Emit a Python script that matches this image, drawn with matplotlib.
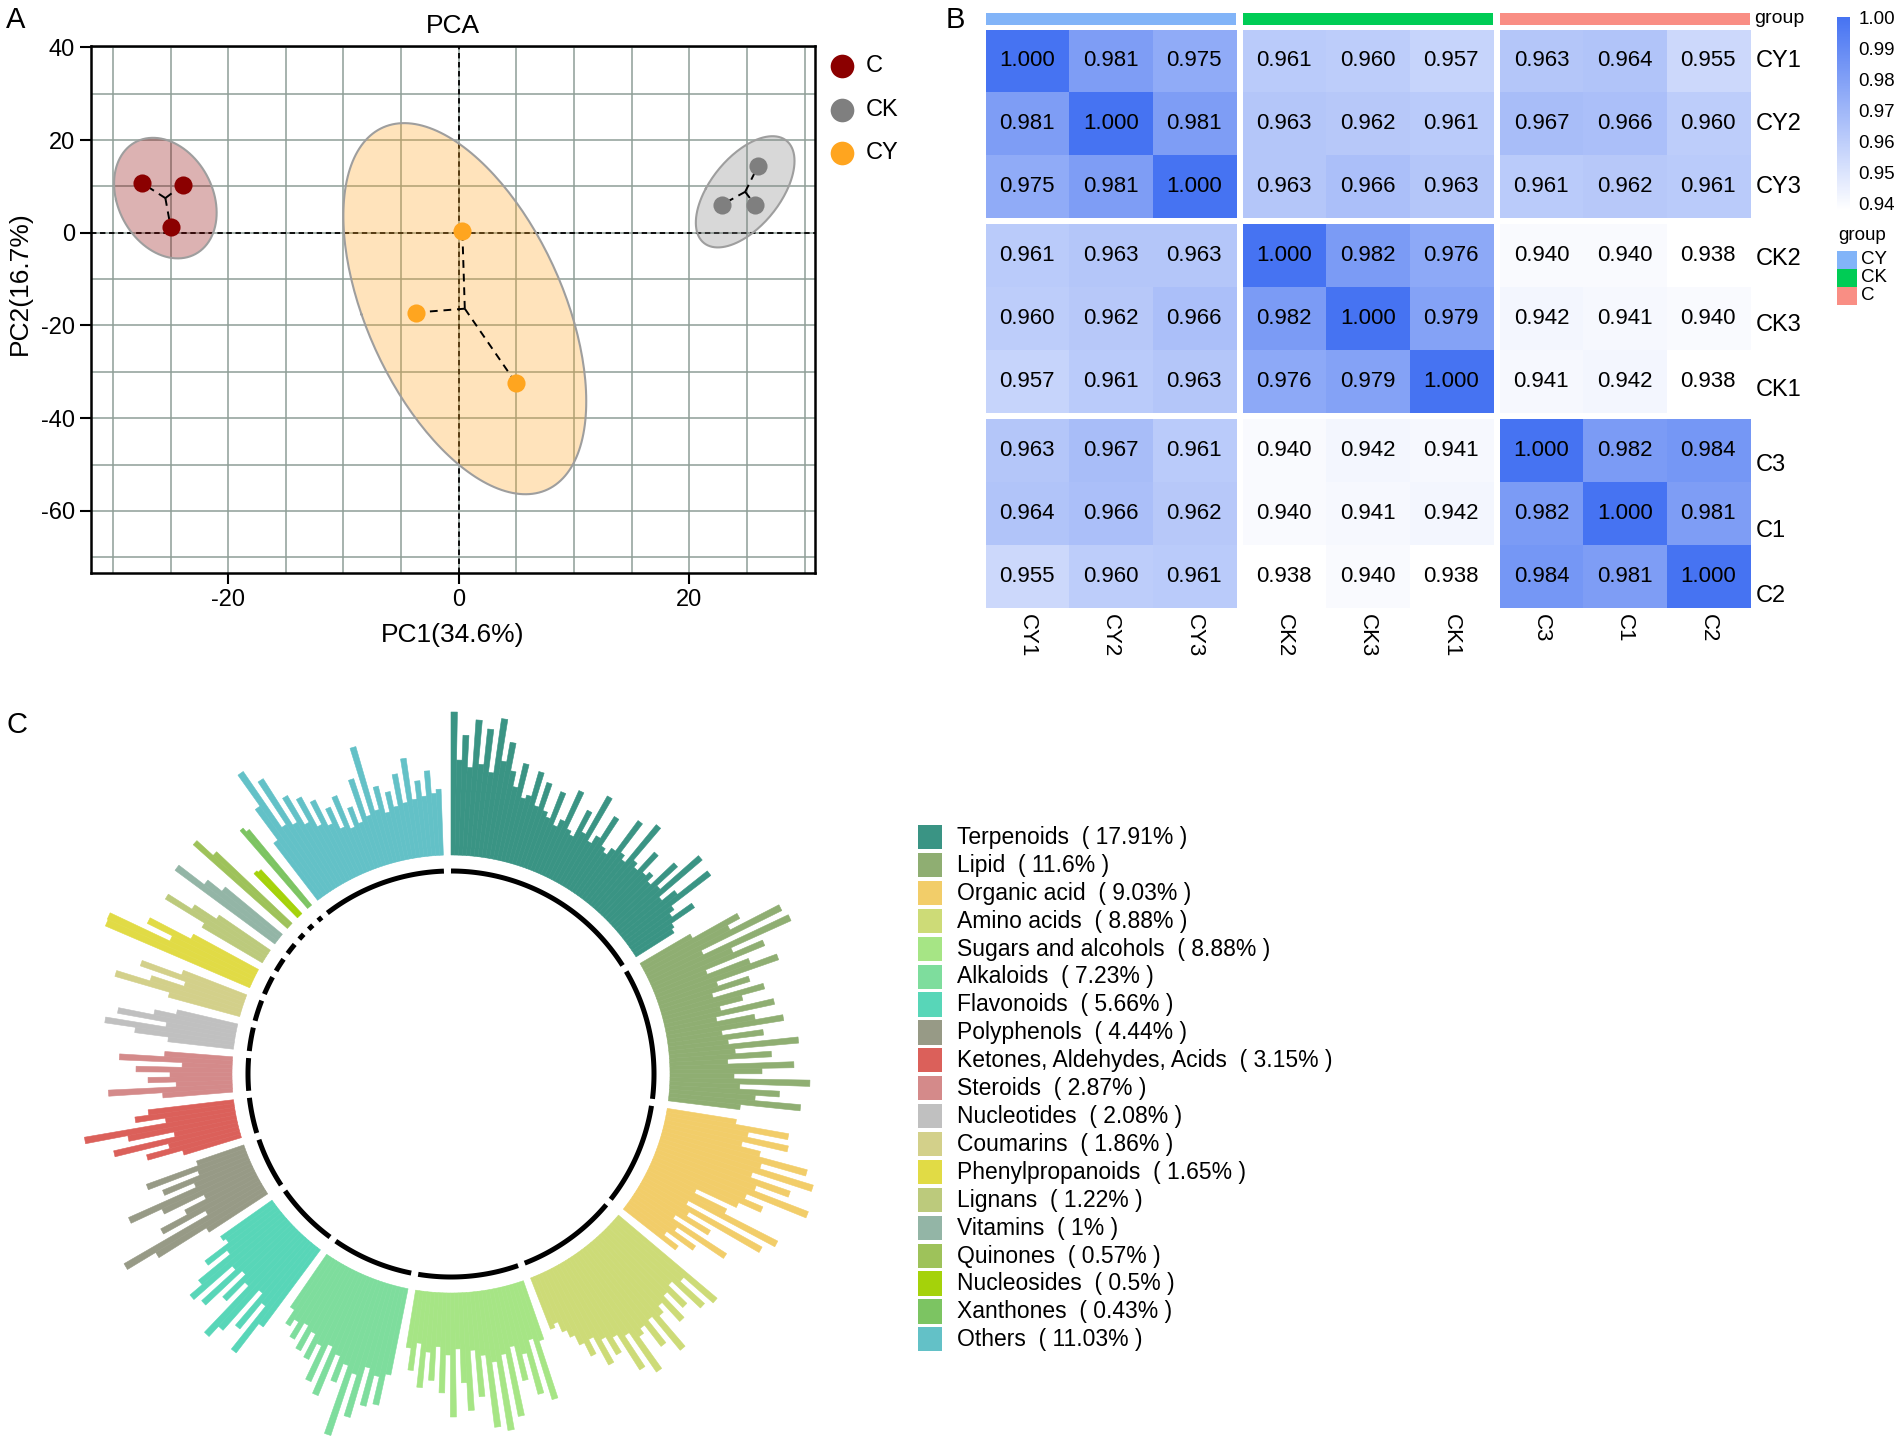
import numpy as np
import matplotlib
matplotlib.use('Agg')
import matplotlib.pyplot as plt
from matplotlib.colors import LinearSegmentedColormap
from matplotlib.patches import Rectangle
from matplotlib.ticker import FormatStrFormatter

plt.rcParams['font.family'] = ['Liberation Sans', 'DejaVu Sans']
plt.rcParams['axes.unicode_minus'] = False

W, H = 1902, 1444  # figure size in pixels

# ---------------- A: PCA scores ----------------
pca_groups = ['C', 'CK', 'CY']
pca_colors = ['#8B0000', '#7F7F7F', '#FFA51F']
pc1_C = [-27.45, -23.9, -25.0]
pc2_C = [10.7, 10.4, 1.35]
pc1_CK = [25.98, 22.83, 25.72]
pc2_CK = [14.5, 6.06, 5.96]
pc1_CY = [0.31, -3.67, 4.93]
pc2_CY = [0.38, -17.2, -32.3]
pc1_var, pc2_var = 34.6, 16.7

# ---------------- B: sample correlation ----------------
samples = ['CY1', 'CY2', 'CY3', 'CK2', 'CK3', 'CK1', 'C3', 'C1', 'C2']
sample_groups = ['CY', 'CK', 'C']
group_colors = ['#82B4F8', '#00CC55', '#F98E84']
corr = [
    [1.000, 0.981, 0.975, 0.961, 0.960, 0.957, 0.963, 0.964, 0.955],
    [0.981, 1.000, 0.981, 0.963, 0.962, 0.961, 0.967, 0.966, 0.960],
    [0.975, 0.981, 1.000, 0.963, 0.966, 0.963, 0.961, 0.962, 0.961],
    [0.961, 0.963, 0.963, 1.000, 0.982, 0.976, 0.940, 0.940, 0.938],
    [0.960, 0.962, 0.966, 0.982, 1.000, 0.979, 0.942, 0.941, 0.940],
    [0.957, 0.961, 0.963, 0.976, 0.979, 1.000, 0.941, 0.942, 0.938],
    [0.963, 0.967, 0.961, 0.940, 0.942, 0.941, 1.000, 0.982, 0.984],
    [0.964, 0.966, 0.962, 0.940, 0.941, 0.942, 0.982, 1.000, 0.981],
    [0.955, 0.960, 0.961, 0.938, 0.940, 0.938, 0.984, 0.981, 1.000],
]

# ---------------- C: metabolite classes ----------------
classes = ['Terpenoids', 'Lipid', 'Organic acid', 'Amino acids', 'Sugars and alcohols',
           'Alkaloids', 'Flavonoids', 'Polyphenols', 'Ketones, Aldehydes, Acids', 'Steroids',
           'Nucleotides', 'Coumarins', 'Phenylpropanoids', 'Lignans', 'Vitamins',
           'Quinones', 'Nucleosides', 'Xanthones', 'Others']
class_pct = [17.91, 11.6, 9.03, 8.88, 8.88, 7.23, 5.66, 4.44, 3.15, 2.87,
             2.08, 1.86, 1.65, 1.22, 1, 0.57, 0.5, 0.43, 11.03]
class_colors = ['#3A9484', '#8FAE72', '#F2CD69', '#CDDB77', '#A6E585', '#7EDD9D',
                '#58D6B8', '#979A86', '#DB605A', '#D48A8A', '#C0C0C0', '#D3D08A',
                '#E1DB45', '#BCCA7C', '#93B5A6', '#9EC25A', '#A5D20A', '#7CC462', '#63C1C7']

# bar lengths per class, clockwise
terpenoids = [143, 95, 120, 88, 136, 92, 128, 85, 140, 98, 118, 90,
              75, 100, 66, 70, 96, 62, 88, 60,
              55, 84, 50, 58, 92, 52, 48, 78, 56, 100, 51, 60, 86, 54, 50,
              58, 96, 60, 55, 104, 62, 57, 82, 59, 64,
              56, 88, 60, 111, 54, 70, 108, 58, 52, 76, 48, 45]
lipid = [58, 109, 95, 150, 60, 154, 88, 120, 56, 100, 128, 62, 94, 54, 106, 82, 58, 112, 52,
         90, 118, 55, 96, 60, 130, 66, 102, 58, 124, 92, 64, 140, 70, 110, 86, 132, 72]
organic_acid = [70, 124, 84, 126, 80, 100, 150, 104, 160, 98, 140, 106, 164, 100, 120, 96,
                52, 88, 148, 50, 137, 56, 84, 46, 110, 54, 80, 48, 66]
amino_acids = [129, 90, 123, 84, 110, 88, 118, 92, 100, 140, 96, 125, 98, 104, 143, 95,
               132, 90, 107, 86, 112, 80, 96, 81, 70, 62, 51, 55]
sugars = [62, 122, 58, 113, 70, 96, 60, 130, 66, 142, 72, 137, 64, 105, 58, 118, 90, 56,
          124, 62, 100, 54, 88, 60, 96, 52, 80, 58]
alkaloids = [88, 120, 92, 124, 86, 139, 96, 162, 90, 110, 84, 129, 78, 119, 82, 100, 74,
             96, 70, 89, 72, 80, 64]
flavonoids = [96, 133, 78, 112, 70, 124, 138, 74, 100, 68, 118, 72, 123, 107, 66, 90, 60, 63]
polyphenols = [70, 126, 159, 62, 110, 80, 56, 100, 134, 60, 92, 52, 105, 50]
ketones = [60, 96, 72, 127, 64, 110, 153, 70, 100, 86]
steroids = [70, 124, 56, 84, 62, 96, 50, 113, 68]
nucleotides = [66, 100, 131, 70, 120, 84, 62]
coumarins = [74, 131, 96, 62, 110, 68]
phenylpropanoids = [157, 158, 92, 120, 74]
lignans = [70, 116, 88, 62]
vitamins = [124, 92, 74]
quinones = [126, 104]
nucleosides = [62, 60]
xanthones = [103, 98]
others = [72, 110, 148, 80, 131, 76, 104, 70, 96, 62, 87, 58, 74, 50, 82, 46, 66, 48, 92, 52,
          122, 55, 78, 50, 70, 54, 86, 56, 100, 58, 76, 60, 85, 62, 66]
class_values = [terpenoids, lipid, organic_acid, amino_acids, sugars, alkaloids, flavonoids,
                polyphenols, ketones, steroids, nucleotides, coumarins, phenylpropanoids,
                lignans, vitamins, quinones, nucleosides, xanthones, others]


def conf_ellipse(x, y, n=200):
    # 95% normal ellipse from the sample covariance
    x = np.asarray(x)
    y = np.asarray(y)
    vals, vecs = np.linalg.eigh(np.cov(x, y))
    t = np.linspace(0, 2 * np.pi, n)
    circ = np.vstack([np.cos(t), np.sin(t)])
    pts = vecs @ (np.sqrt(vals)[:, None] * circ) * np.sqrt(5.991)
    return x.mean() + pts[0], y.mean() + pts[1]


fig = plt.figure(figsize=(W / 100, H / 100), dpi=100)

# ================= Panel A =================
axA = fig.add_axes([91 / W, 1 - 573 / H, 724 / W, 527 / H])
axA.set_xlim(-31.9, 30.9)
axA.set_ylim(-73.4, 40.3)
axA.set_xticks([-20, 0, 20])
axA.set_yticks([-60, -40, -20, 0, 20, 40])
axA.set_xticks(np.arange(-30, 31, 5), minor=True)
axA.set_yticks(np.arange(-70, 41, 10), minor=True)
axA.grid(which='both', color='#8E9E97', lw=1.1)
axA.set_axisbelow(True)
axA.tick_params(which='major', labelsize=17, length=8, width=1.5, color='black')
axA.tick_params(which='minor', length=0)
for sp in axA.spines.values():
    sp.set_linewidth(1.8)
axA.axhline(0, color='black', ls=(0, (3, 2)), lw=1.3, zorder=2)
axA.axvline(0, color='black', ls=(0, (3, 2)), lw=1.3, zorder=2)

pca_x = [pc1_C, pc1_CK, pc1_CY]
pca_y = [pc2_C, pc2_CK, pc2_CY]
for xs, ys, col in zip(pca_x, pca_y, pca_colors):
    ex, ey = conf_ellipse(xs, ys)
    axA.fill(ex, ey, color=col, alpha=0.3, lw=0, zorder=3)
    axA.plot(ex, ey, color='#9E9E9E', lw=1.5, zorder=3)
    mx, my = np.mean(xs), np.mean(ys)
    for px, py in zip(xs, ys):
        axA.plot([mx, px], [my, py], color='black', ls=(0, (4, 3)), lw=1.4, zorder=4)
    axA.scatter(xs, ys, s=170, color=col, zorder=5, linewidths=0)

axA.set_title('PCA', fontsize=19, pad=9)
axA.set_xlabel(f'PC1({pc1_var}%)', fontsize=19, labelpad=9)
axA.set_ylabel(f'PC2({pc2_var}%)', fontsize=19)
axA.yaxis.set_label_coords(-0.082, 0.55)

# ================= Panel B =================
gx, gy = 0.08, 0.095
M = np.array(corr)
cmap = LinearSegmentedColormap.from_list('wb', ['#FFFFFF', '#4673F2'])
axB = fig.add_axes([985.6 / W, 1 - 607.6 / H, 764.4 / W, 578.1 / H])
im = None
for bi in range(3):
    for bj in range(3):
        x0 = bj * (3 + gx)
        y0 = bi * (3 + gy)
        im = axB.imshow(M[3 * bi:3 * bi + 3, 3 * bj:3 * bj + 3], cmap=cmap,
                        vmin=M.min(), vmax=M.max(), extent=(x0, x0 + 3, y0 + 3, y0),
                        aspect='auto', interpolation='nearest')
axB.set_xlim(0, 9 + 2 * gx)
axB.set_ylim(9 + 2 * gy, 0)
axB.axis('off')

for i in range(9):
    cy = i + (i // 3) * gy + 0.5
    for j in range(9):
        cx = j + (j // 3) * gx + 0.5
        axB.text(cx, cy, f'{M[i, j]:.3f}', ha='center', va='center', fontsize=16)
    # row labels sit slightly lower for the lower blocks, as in the source figure
    axB.text(9 + 2 * gx + 0.07, cy + 0.06 * (i // 3) + 0.04 * max(i - 3, 0), samples[i],
             ha='left', va='center', fontsize=17)
for j in range(9):
    cx = j + (j // 3) * gx + 0.5
    axB.text(cx, 9 + 2 * gy + 0.1, samples[j], ha='center', va='top', rotation=270, fontsize=16)

for g in range(3):
    axB.add_patch(Rectangle((g * (3 + gx), -0.27), 3, 0.205, color=group_colors[g],
                            clip_on=False, lw=0))
axB.text(9 + 2 * gx + 0.05, -0.17, 'group', ha='left', va='center', fontsize=14)

cax = fig.add_axes([1837 / W, 1 - 210 / H, 13 / W, 193 / H])
cb = fig.colorbar(im, cax=cax, ticks=[0.94, 0.95, 0.96, 0.97, 0.98, 0.99, 1.00])
cb.outline.set_visible(False)
cax.yaxis.set_major_formatter(FormatStrFormatter('%.2f'))
cax.tick_params(length=0, labelsize=13.5, pad=6)

# ================= Panel C =================
axC = fig.add_axes([51 / W, 1 - 1474 / H, 800 / W, 800 / H], projection='polar')
axC.set_theta_zero_location('N')
axC.set_theta_direction(-1)
gap = 2.0
pct = np.array(class_pct)
spans = pct / pct.sum() * (360 - gap * len(classes))
start = 0.0
for vals, span, col in zip(class_values, spans, class_colors):
    n = len(vals)
    w = span / n
    th = np.deg2rad(start + w * (np.arange(n) + 0.5))
    axC.bar(th, vals, width=np.deg2rad(w), bottom=219, color=col, edgecolor=col, linewidth=0.4)
    arc = np.deg2rad(np.linspace(start, start + span, 60))
    axC.plot(arc, np.full(60, 203.0), color='black', lw=3.6, solid_capstyle='butt')
    start += span + gap
axC.set_ylim(0, 400)
axC.axis('off')

# ================= overlay: letters and legends =================
ov = fig.add_axes([0, 0, 1, 1])
ov.set_xlim(0, W)
ov.set_ylim(H, 0)
ov.axis('off')

ov.text(6, 20, 'A', fontsize=21, ha='left', va='center')
ov.text(946, 20, 'B', fontsize=21, ha='left', va='center')
ov.text(7, 725, 'C', fontsize=21, ha='left', va='center')

# PCA legend
for k, (g, col) in enumerate(zip(pca_groups, pca_colors)):
    yk = 66 + k * 43.5
    ov.scatter([842], [yk], s=290, color=col, linewidths=0)
    ov.text(866, yk, g, fontsize=17, ha='left', va='center')

# heatmap group legend
ov.text(1838, 236, 'group', fontsize=13.5, ha='left', va='center')
for k, (g, col) in enumerate(zip(sample_groups, group_colors)):
    y0 = 251 + k * 18
    ov.add_patch(Rectangle((1837, y0), 20, 18, color=col, lw=0))
    ov.text(1861, y0 + 9, g, fontsize=13.5, ha='left', va='center')

# class legend
for k, (name, p, col) in enumerate(zip(classes, class_pct, class_colors)):
    y0 = 825 + k * 27.9
    ov.add_patch(Rectangle((917.5, y0), 24.2, 24.2, color=col, lw=0))
    ov.text(957, y0 + 12.5, f'{name}  ( {p:g}% )', fontsize=16.5, ha='left', va='center')

fig.savefig('out.png', dpi=100)
